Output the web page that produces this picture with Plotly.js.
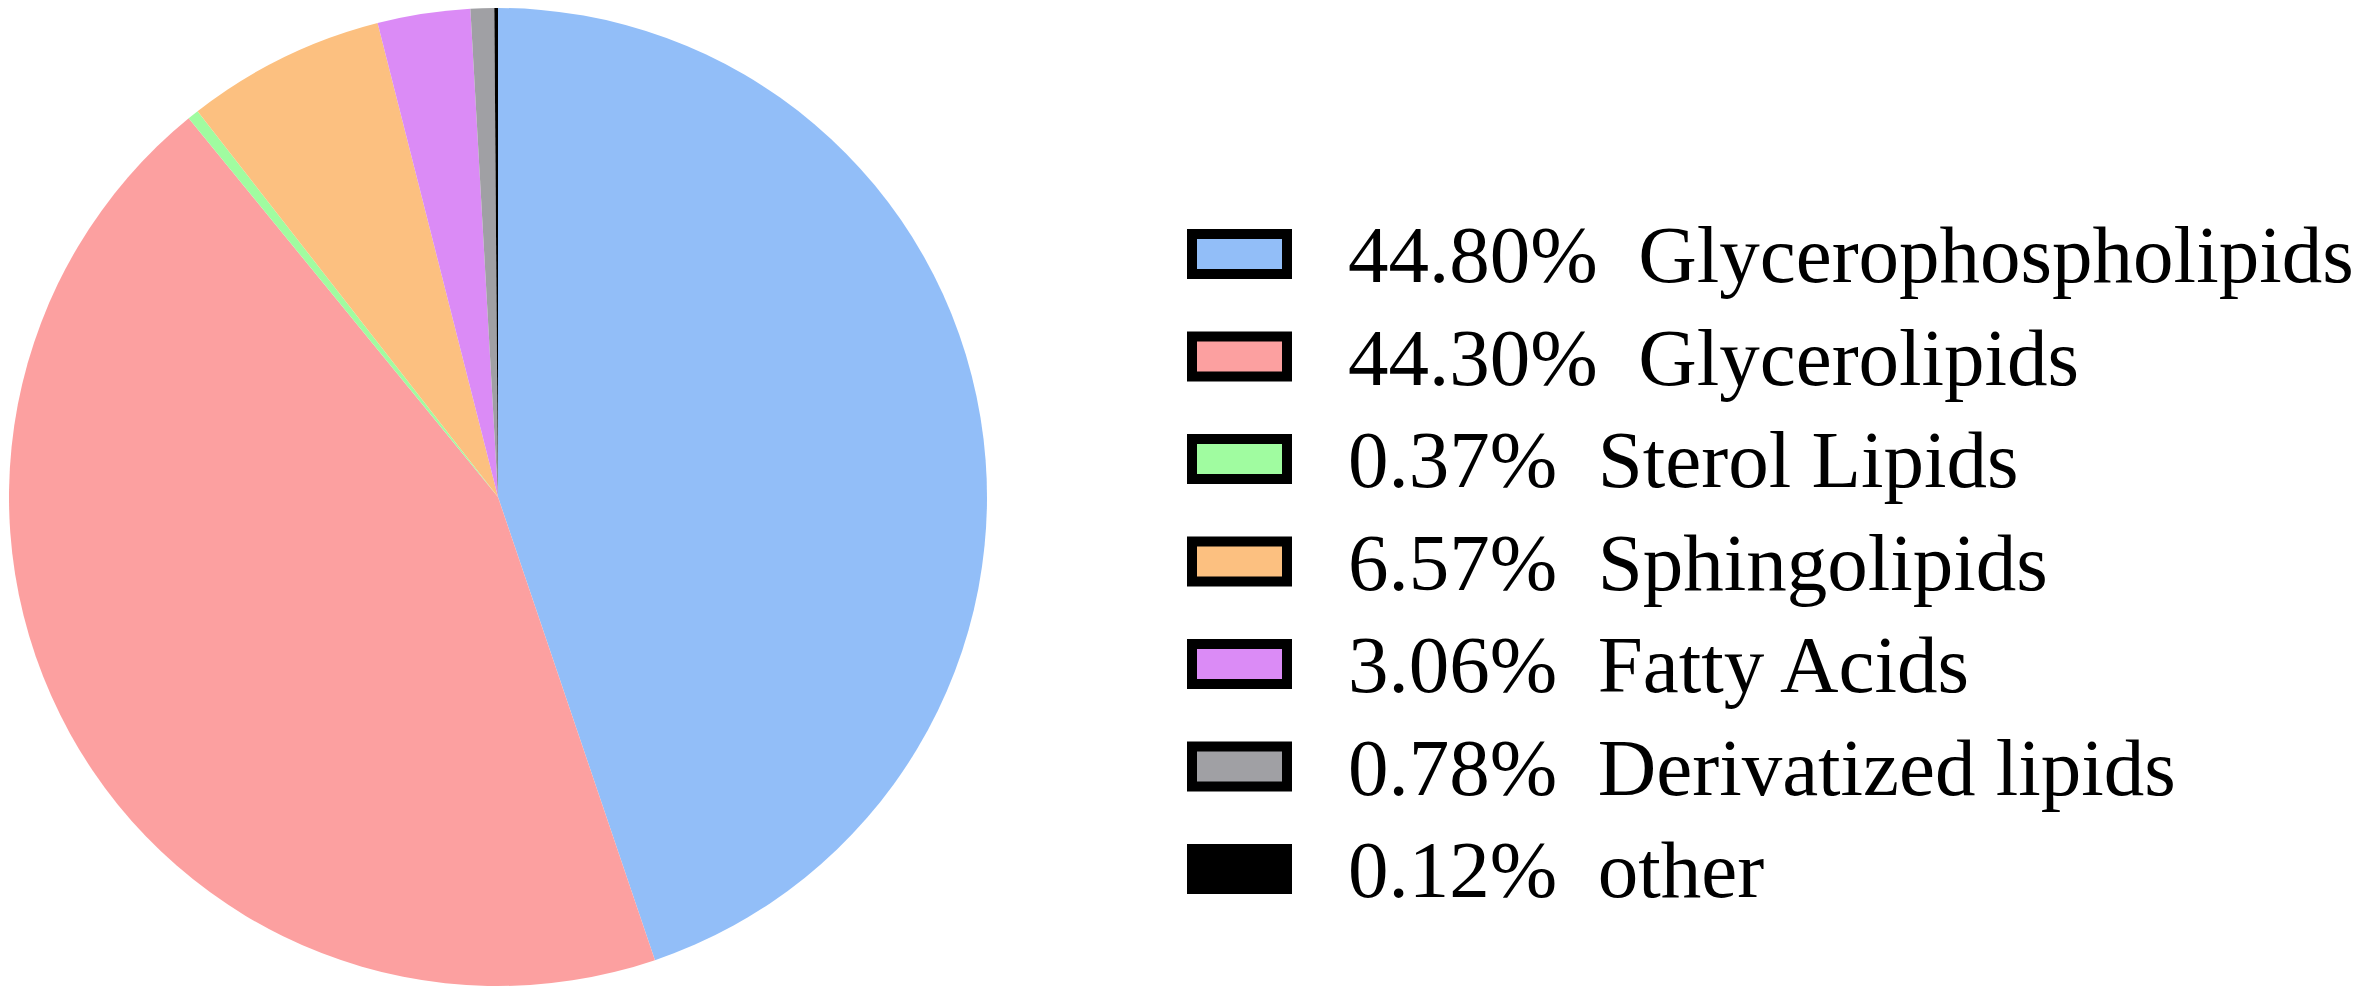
<!DOCTYPE html>
<html>
<head>
<meta charset="utf-8">
<script src="https://cdn.plot.ly/plotly-3.0.1.min.js"></script>
<style>
  html, body { margin: 0; padding: 0; background: #fff; }
  #chart { width: 2362px; height: 992px; }
</style>
</head>
<body>
<div id="chart"></div>
<script>
// lipid classes, clockwise from 12 o'clock
var classes = ['Glycerophospholipids', 'Glycerolipids', 'Sterol Lipids', 'Sphingolipids',
               'Fatty Acids', 'Derivatized lipids', 'other'];
var shares = [44.80, 44.30, 0.37, 6.57, 3.06, 0.78, 0.12];
var colors = ['#92bef8', '#fca0a0', '#a0fca0', '#fcc080', '#db8bf6', '#a0a0a4', '#000000'];

var W = 2362, H = 992;

var pie = {
  type: 'pie',
  labels: classes,
  values: shares,
  sort: false,
  direction: 'clockwise',
  rotation: 0,
  textinfo: 'none',
  hoverinfo: 'label+percent',
  marker: { colors: colors, line: { width: 0 } },
  domain: { x: [9 / W, 987 / W], y: [6 / H, 984 / H] },
  showlegend: false
};

// hand-drawn legend: big boxes with thick black frames
var shapes = [], annotations = [];
var rowTop = 254, rowStep = 102.5;
classes.forEach(function (c, i) {
  var yc = rowTop + i * rowStep;
  shapes.push({
    type: 'rect', xref: 'paper', yref: 'paper',
    x0: 1192 / W, x1: 1287 / W,
    y0: 1 - (yc + 20) / H, y1: 1 - (yc - 20) / H,
    fillcolor: colors[i],
    line: { color: '#000', width: 10 }
  });
  annotations.push({
    xref: 'paper', yref: 'paper',
    x: 1346 / W, y: 1 - (yc + 1) / H,
    xanchor: 'left', yanchor: 'middle',
    showarrow: false,
    text: shares[i].toFixed(2) + '%\u00A0\u00A0' + c,
    font: { family: 'Liberation Serif, DejaVu Serif, serif', size: 81, color: '#000' }
  });
});

var layout = {
  width: W,
  height: H,
  margin: { l: 0, r: 0, t: 0, b: 0, pad: 0 },
  paper_bgcolor: '#fff',
  font: { family: 'Liberation Serif, serif' },
  shapes: shapes,
  annotations: annotations
};

Plotly.newPlot('chart', [pie], layout, { displayModeBar: false, staticPlot: true });
</script>
</body>
</html>
